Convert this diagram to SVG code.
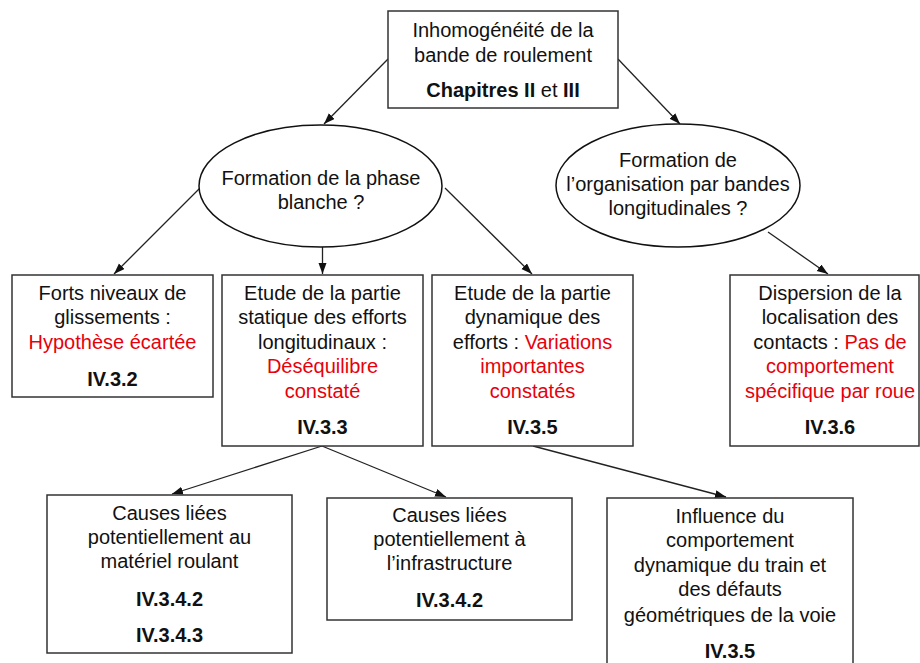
<svg xmlns="http://www.w3.org/2000/svg" width="920" height="663" viewBox="0 0 920 663">
<style>
.box{fill:#fff;stroke:#333;stroke-width:1.5}
.el{fill:#fff;stroke:#111;stroke-width:1.5}
text{font-family:"Liberation Sans",Arial,sans-serif;font-size:20px;fill:#111;text-anchor:middle}
.b{font-weight:bold}
.r{fill:#e8000b}
.conn line{stroke:#222;stroke-width:1.3;marker-end:url(#ah)}
</style>
<defs>
<marker id="ah" markerUnits="userSpaceOnUse" markerWidth="12" markerHeight="10" refX="11" refY="4" orient="auto">
<path d="M0,0 L11,4 L0,8 Z" fill="#111"/>
</marker>
</defs>
<rect width="920" height="663" fill="#fff"/>
<g class="conn" id="connectors">
<line x1="388" y1="59" x2="324" y2="124"/>
<line x1="618" y1="59" x2="680" y2="124"/>
<line x1="200" y1="188" x2="114" y2="274"/>
<line x1="322.5" y1="247" x2="322.5" y2="274"/>
<line x1="445" y1="188" x2="532" y2="274"/>
<line x1="768" y1="232" x2="828" y2="274"/>
<line x1="322" y1="446" x2="172" y2="494"/>
<line x1="322" y1="446" x2="446" y2="497"/>
<line x1="533" y1="446" x2="726" y2="497"/>
</g>
<g id="top">
<rect class="box" x="388" y="11" width="230" height="97"/>
<text x="503" y="37">Inhomogénéité de la</text>
<text x="503" y="62">bande de roulement</text>
<text x="503" y="97"><tspan class="b">Chapitres II</tspan> et <tspan class="b">III</tspan></text>
</g>
<g id="phase">
<ellipse class="el" cx="320.5" cy="186" rx="121.5" ry="61"/>
<text x="321" y="185">Formation de la phase</text>
<text x="321" y="209">blanche ?</text>
</g>
<g id="bandes">
<ellipse class="el" cx="678" cy="185.5" rx="122" ry="61.5"/>
<text x="678" y="167">Formation de</text>
<text x="678" y="191">l’organisation par bandes</text>
<text x="678" y="215">longitudinales ?</text>
</g>
<g id="forts">
<rect class="box" x="12" y="275" width="201" height="122"/>
<text x="112.5" y="300">Forts niveaux de</text>
<text x="112.5" y="324">glissements :</text>
<text x="112.5" y="349" class="r">Hypothèse écartée</text>
<text x="112.5" y="386" class="b">IV.3.2</text>
</g>
<g id="statique">
<rect class="box" x="222" y="275" width="201" height="171"/>
<text x="322.5" y="300">Etude de la partie</text>
<text x="322.5" y="324">statique des efforts</text>
<text x="322.5" y="349">longitudinaux :</text>
<text x="322.5" y="373" class="r">Déséquilibre</text>
<text x="322.5" y="398" class="r">constaté</text>
<text x="322.5" y="434" class="b">IV.3.3</text>
</g>
<g id="dynamique">
<rect class="box" x="432" y="275" width="201" height="171"/>
<text x="532.5" y="300">Etude de la partie</text>
<text x="532.5" y="324">dynamique des</text>
<text x="532.5" y="349">efforts : <tspan class="r">Variations</tspan></text>
<text x="532.5" y="373" class="r">importantes</text>
<text x="532.5" y="398" class="r">constatés</text>
<text x="532.5" y="434" class="b">IV.3.5</text>
</g>
<g id="dispersion">
<rect class="box" x="730" y="275" width="189" height="171"/>
<text x="830" y="300">Dispersion de la</text>
<text x="830" y="324">localisation des</text>
<text x="830" y="349">contacts : <tspan class="r">Pas de</tspan></text>
<text x="830" y="373" class="r">comportement</text>
<text x="830" y="398" class="r">spécifique par roue</text>
<text x="830" y="434" class="b">IV.3.6</text>
</g>
<g id="materiel">
<rect class="box" x="47" y="495" width="245" height="158"/>
<text x="169.5" y="520">Causes liées</text>
<text x="169.5" y="544">potentiellement au</text>
<text x="169.5" y="568">matériel roulant</text>
<text x="169.5" y="606" class="b">IV.3.4.2</text>
<text x="169.5" y="642" class="b">IV.3.4.3</text>
</g>
<g id="infra">
<rect class="box" x="327" y="498" width="245" height="122"/>
<text x="449.5" y="522">Causes liées</text>
<text x="449.5" y="546">potentiellement à</text>
<text x="449.5" y="570">l’infrastructure</text>
<text x="449.5" y="607" class="b">IV.3.4.2</text>
</g>
<g id="influence">
<rect class="box" x="607" y="498" width="246" height="170"/>
<text x="730" y="523">Influence du</text>
<text x="730" y="547">comportement</text>
<text x="730" y="572">dynamique du train et</text>
<text x="730" y="596">des défauts</text>
<text x="730" y="622">géométriques de la voie</text>
<text x="730" y="658" class="b">IV.3.5</text>
</g>
</svg>
